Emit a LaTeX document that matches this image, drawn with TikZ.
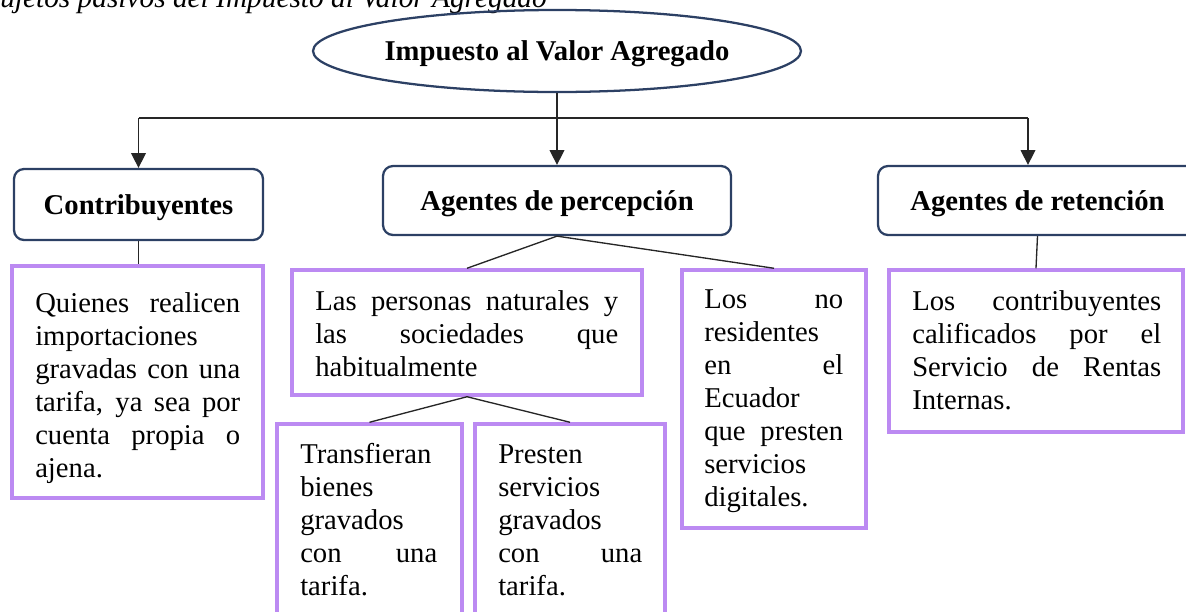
\documentclass[tikz,border=0pt]{standalone}
\usepackage{fontspec}
\setmainfont{Liberation Serif}
\usepackage{xcolor}
\usetikzlibrary{shapes.geometric,arrows.meta}

\definecolor{marco}{RGB}{44,64,100}
\definecolor{lila}{RGB}{188,138,242}
% justified line inside a text box
\newcommand{\jline}[1]{\leavevmode\hbox to\hsize{\spaceskip=.25em plus 1fill\relax#1}\\}

\tikzset{
	titulo/.style={draw=marco,line width=1.7pt,inner sep=0pt,text height=14.25pt,text depth=0pt,font=\fontsize{21.5}{25}\selectfont\bfseries},
	cabeza/.style={titulo,rectangle,rounded corners=7.5pt},
	caja/.style={draw=lila,line width=2.6pt,inner sep=0pt},
	texto/.style={inner sep=0pt,anchor=base west,font=\fontsize{21.5}{24.75}\selectfont},
	linea/.style={draw=black!85,line width=1pt},
	flecha/.style={-{Triangle[width=11pt,length=11pt]}}
}

\begin{document}
\begin{tikzpicture}[x=0.75pt,y=-0.75pt]
	\useasboundingbox (0,0) rectangle (1186,611);
	
	%caption
	\node[anchor=base east,inner sep=0pt,font=\fontsize{22}{25}\selectfont\itshape] (cap) at (547,7) {Sujetos pasivos del Impuesto al Valor Agregado};
	
	%top
	\node[titulo,ellipse,minimum width=366pt,minimum height=61.5pt] (imp) at (557,51) {Impuesto al Valor Agregado};
	\node[cabeza,minimum width=186.75pt,minimum height=53.25pt] (contrib) at (138.5,204.5) {Contribuyentes};
	\node[cabeza,minimum width=261pt,minimum height=51.75pt] (percep) at (557,200.5) {Agentes de percepción};
	\node[cabeza,minimum width=239.25pt,minimum height=51.75pt] (reten) at (1037.5,200.5) {Agentes de retención};
	
	\coordinate (bar) at (0,118);
	\coordinate (barR) at (1028,118);
	\draw[linea] (contrib.north |- bar) -- (barR);
	\draw[linea,flecha] (imp.south) -- (percep.north);
	\draw[linea,flecha] (contrib.north |- bar) -- (contrib.north);
	\draw[linea,flecha] (barR) -- (barR |- reten.north);
	
	%boxes
	\node[caja,minimum width=188.25pt,minimum height=174pt] (quienes) at (137.5,382) {};
	\node[caja,minimum width=262.5pt,minimum height=93.75pt] (personas) at (467,332.5) {};
	\node[caja,minimum width=138pt,minimum height=193.5pt] (noresid) at (774,399) {};
	\node[caja,minimum width=220.5pt,minimum height=121.5pt] (calif) at (1036,351) {};
	\node[caja,minimum width=138.75pt,minimum height=162pt] (transf) at (369.5,532) {};
	\node[caja,minimum width=142.5pt,minimum height=162pt] (presten) at (570,532) {};
	
	\node[texto,text width=153.75pt] (tquienes) at (35,312) {\jline{Quienes realicen}importaciones\\\jline{gravadas con una}\jline{tarifa, ya sea por}\jline{cuenta propia o}ajena.};
	\node[texto,text width=227.25pt] (tpersonas) at (315,310) {\jline{Las personas naturales y}\jline{las sociedades que}habitualmente};
	\node[texto,text width=104.25pt] (tnoresid) at (704,308) {\jline{Los no}residentes\\\jline{en el}Ecuador\\\jline{que presten}servicios\\digitales.};
	\node[texto,text width=186.75pt] (tcalif) at (912,310) {\jline{Los contribuyentes}\jline{calificados por el}\jline{Servicio de Rentas}Internas.};
	\node[texto,text width=102.75pt] (ttransf) at (300,463) {Transfieran\\bienes\\gravados\\\jline{con una}tarifa.};
	\node[texto,text width=108pt] (tpresten) at (498,463) {Presten\\servicios\\gravados\\\jline{con una}tarifa.};
	
	%connectors
	\draw[linea] (contrib.south) -- (contrib.south |- quienes.north);
	\draw[linea] (percep.south) -- (personas.north);
	\draw[linea] (percep.south) -- (noresid.north);
	\draw[linea] (personas.south) -- (transf.north);
	\draw[linea] (personas.south) -- (presten.north);
	\draw[linea] (reten.south) -- (calif.north);
\end{tikzpicture}
\end{document}
